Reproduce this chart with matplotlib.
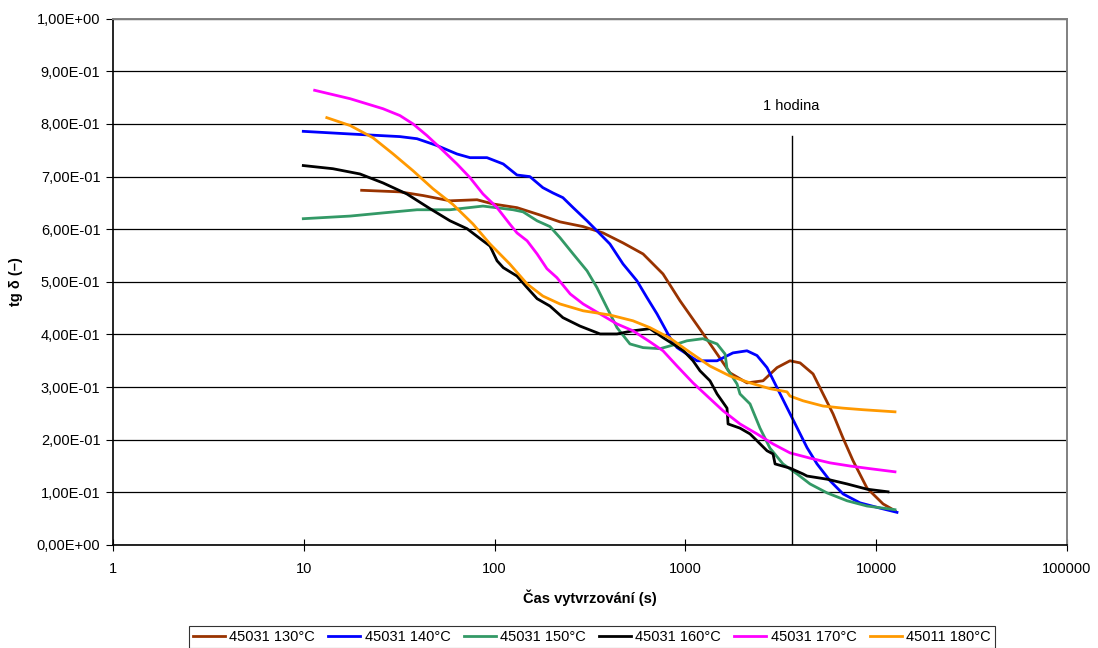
import matplotlib.pyplot as plt
import matplotlib.ticker as mticker

plt.rcParams['font.family'] = ['Liberation Sans', 'DejaVu Sans']

# 45031 130°C
t130 = [20.1, 31.9, 42.2, 58.4, 80.9, 98.1, 131, 173, 220, 291, 370, 471, 600, 763, 937,
        1192, 1465, 1713, 2102, 2552, 3020, 3532, 3990, 4667, 5265, 5940, 6702, 7562,
        8950, 10860, 12540]
v130 = [0.674, 0.671, 0.664, 0.654, 0.656, 0.648, 0.641, 0.627, 0.614, 0.605, 0.593, 0.574,
        0.553, 0.515, 0.464, 0.41, 0.363, 0.327, 0.308, 0.312, 0.337, 0.35, 0.346, 0.325,
        0.287, 0.249, 0.203, 0.160, 0.108, 0.078, 0.065]

# 45031 140°C
t140 = [9.94, 17.5, 31.9, 39.2, 49.9, 63.5, 74.3, 91.2, 111, 131, 153, 179, 202, 228, 258,
        305, 357, 402, 471, 557, 629, 710, 830, 904, 1151, 1465, 1775, 2102, 2372, 2677,
        3020, 3407, 3845, 4338, 4895, 5728, 6702, 8226, 10470, 12850]
v140 = [0.786, 0.781, 0.776, 0.772, 0.759, 0.743, 0.736, 0.736, 0.724, 0.703, 0.700, 0.679,
        0.669, 0.660, 0.641, 0.616, 0.591, 0.572, 0.534, 0.502, 0.470, 0.439, 0.394, 0.375,
        0.350, 0.350, 0.365, 0.369, 0.360, 0.337, 0.299, 0.261, 0.223, 0.185, 0.154, 0.122,
        0.097, 0.080, 0.070, 0.062]

# 45031 150°C
t150 = [9.94, 17.5, 26.0, 39.2, 58.4, 86.9, 125, 141, 167, 195, 220, 258, 305, 344, 388,
        438, 512, 600, 736, 904, 1019, 1236, 1465, 1613, 1652, 1864, 1932, 2181, 2460,
        2774, 3245, 3845, 4497, 5521, 7031, 8950, 12540]
v150 = [0.620, 0.625, 0.631, 0.637, 0.637, 0.644, 0.637, 0.633, 0.616, 0.605, 0.584, 0.553,
        0.521, 0.489, 0.451, 0.413, 0.382, 0.375, 0.373, 0.382, 0.388, 0.392, 0.382, 0.363,
        0.335, 0.306, 0.287, 0.268, 0.222, 0.184, 0.154, 0.135, 0.116, 0.099, 0.084, 0.074,
        0.067]

# 45031 160°C
t160 = [9.94, 14.2, 19.7, 26.0, 34.7, 45.9, 58.4, 71.7, 86.9, 94.6, 103, 111, 131, 148, 167,
        195, 228, 280, 357, 438, 531, 652, 763, 971, 1096, 1192, 1345, 1465, 1652, 1673,
        1932, 2181, 2372, 2677, 2878, 2950, 3532, 4132, 4338, 5521, 7031, 8950, 11530]
v160 = [0.721, 0.715, 0.705, 0.688, 0.667, 0.639, 0.616, 0.601, 0.578, 0.568, 0.540, 0.527,
        0.511, 0.489, 0.468, 0.454, 0.432, 0.416, 0.401, 0.401, 0.407, 0.411, 0.394, 0.370,
        0.350, 0.331, 0.312, 0.287, 0.260, 0.230, 0.222, 0.211, 0.198, 0.179, 0.173, 0.154,
        0.146, 0.135, 0.131, 0.125, 0.116, 0.106, 0.101]

# 45031 170°C
t170 = [11.4, 17.5, 26.0, 31.9, 37.4, 44.2, 51.7, 63.5, 74.3, 86.9, 103, 120, 131, 148, 167,
        188, 212, 249, 291, 357, 438, 531, 652, 763, 904, 1096, 1345, 1575, 1932, 2372,
        2878, 3532, 4497, 5728, 7300, 9270, 12540]
v170 = [0.864, 0.848, 0.829, 0.816, 0.800, 0.778, 0.755, 0.724, 0.698, 0.667, 0.641, 0.610,
        0.593, 0.578, 0.553, 0.525, 0.508, 0.477, 0.458, 0.439, 0.420, 0.407, 0.386, 0.369,
        0.340, 0.308, 0.278, 0.255, 0.230, 0.211, 0.192, 0.175, 0.165, 0.156, 0.150, 0.145,
        0.139]

# 45011 180°C
t180 = [13.2, 17.5, 23.0, 29.4, 37.4, 47.5, 60.5, 77.0, 94.6, 120, 148, 179, 220, 291, 402,
        531, 652, 830, 1057, 1345, 1713, 2181, 2774, 3407, 3532, 4132, 5265, 6702, 8530,
        12540]
v180 = [0.812, 0.797, 0.774, 0.743, 0.711, 0.677, 0.647, 0.610, 0.572, 0.534, 0.496, 0.473,
        0.458, 0.445, 0.437, 0.426, 0.413, 0.393, 0.366, 0.340, 0.321, 0.308, 0.297, 0.291,
        0.283, 0.274, 0.264, 0.260, 0.257, 0.253]

series = [
    ("45031 130°C", t130, v130, "#993300"),
    ("45031 140°C", t140, v140, "#0000ff"),
    ("45031 150°C", t150, v150, "#339966"),
    ("45031 160°C", t160, v160, "#000000"),
    ("45031 170°C", t170, v170, "#ff00ff"),
    ("45011 180°C", t180, v180, "#ff9900"),
]

HOUR = 3600
HOUR_TOP = 0.778

fig = plt.figure(figsize=(10.98, 6.48), dpi=100)
ax = fig.add_axes([0.1029, 0.159, 0.8689, 0.8121])

for label, t, v, color in series:
    ax.plot(t, v, color=color, linewidth=2.0, label=label)

ax.plot([HOUR, HOUR], [0, HOUR_TOP], color="#000000", linewidth=1.0)
ax.text(HOUR, 0.82, "1 hodina", ha="center", va="bottom", fontsize=10.5)

ax.set_xscale("log")
ax.set_xlim(1, 100000)
ax.set_ylim(0, 1.0)
ax.xaxis.set_major_locator(mticker.LogLocator(base=10, numticks=10))
ax.xaxis.set_minor_locator(mticker.NullLocator())
ax.xaxis.set_major_formatter(mticker.FuncFormatter(lambda x, p: f"{x:.0f}"))
ax.yaxis.set_major_locator(mticker.MultipleLocator(0.1))
ax.yaxis.set_major_formatter(
    mticker.FuncFormatter(lambda y, p: f"{y:.2E}".replace(".", ",")))

ax.grid(axis="y", color="#000000", linewidth=0.9)
ax.set_axisbelow(True)
ax.tick_params(axis="x", direction="inout", length=8, labelsize=10.5, pad=8)
ax.tick_params(axis="y", direction="out", length=5, labelsize=10.5, pad=4)
for side in ["left", "bottom"]:
    ax.spines[side].set_color("#000000")
    ax.spines[side].set_linewidth(1.2)
for side in ["right", "top"]:
    ax.spines[side].set_color("#808080")
    ax.spines[side].set_linewidth(1.4)

ax.set_xlabel("Čas vytvrzování (s)", fontsize=10.5, fontweight="bold", labelpad=10)
ax.set_ylabel("tg δ (–)", fontsize=10.5, fontweight="bold", labelpad=10)

leg = fig.legend(loc="lower center", bbox_to_anchor=(0.539, -0.012), ncol=6,
                 fontsize=10.5, frameon=True, fancybox=False, edgecolor="#000000",
                 handlelength=2.2, handletextpad=0.3, columnspacing=0.9,
                 borderpad=0.3)
leg.get_frame().set_linewidth(0.8)

fig.savefig("out.png", dpi=100)
